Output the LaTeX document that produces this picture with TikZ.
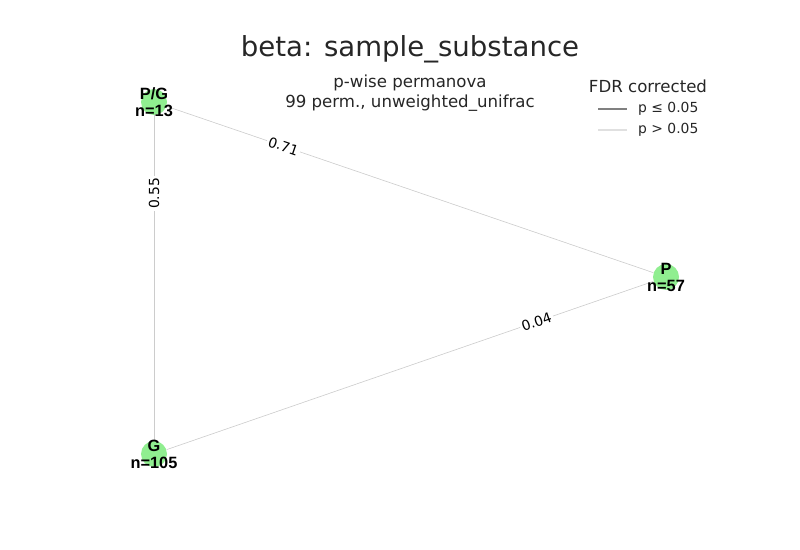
\documentclass[tikz,border=0pt]{standalone}
\usepackage{fontspec}
\setmainfont{DejaVu Sans}
\newfontfamily\labelfont{Liberation Sans}
\usetikzlibrary{positioning}

\definecolor{txtgray}{RGB}{38,38,38}
\definecolor{edgegray}{RGB}{204,204,204}
\definecolor{sigline}{RGB}{128,128,128}
\definecolor{nsline}{RGB}{224,224,224}
\definecolor{groupgreen}{RGB}{144,238,144}

\begin{document}
\begin{tikzpicture}[
    x=0.02cm, y=-0.02cm,
    group/.style={circle, fill=groupgreen, minimum size=26*0.02cm, inner sep=0pt},
    grouplabel/.style={align=center, font=\labelfont\fontsize{9.3}{9.7}\selectfont\bfseries, text=black},
    edge/.style={edgegray, line width=0.35pt},
    pval/.style={sloped, fill=white, inner sep=1pt, font=\fontsize{7.9}{9}\selectfont, text=black}
]
\useasboundingbox (0,0) rectangle (800,550);

% Title and subtitle
\node[txtgray, font=\fontsize{15.7}{18}\selectfont] (title) at (410,49) {beta: sample\_substance};
\node[txtgray, align=center, font=\fontsize{9.45}{11.4}\selectfont] (subtitle) at (410,93) {p-wise permanova\\99 perm., unweighted\_unifrac};

% Groups
\node[group] (PG) at (154,102) {};
\node[group] (P) at (666,277) {};
\node[group] (G) at (154,454) {};

% Pairwise edges
\draw[edge] (PG) -- node[pval, pos=0.24] {0.71} (P);
\draw[edge] (P) -- node[pval, pos=0.24] {0.04} (G);
\draw[edge] (G) -- node[pval, pos=0.76] {0.55} (PG);

% Group labels
\node[grouplabel] (PGlab) at (PG) {P/G\\n=13};
\node[grouplabel] (Plab) at (P) {P\\n=57};
\node[grouplabel] (Glab) at (G) {G\\n=105};

% Legend
\node[txtgray, font=\fontsize{9.45}{11}\selectfont] (legtitle) at (648,86) {FDR corrected};
\coordinate (sigA) at (598,109);
\coordinate (sigB) at (627,109);
\coordinate (nsA) at (598,130);
\coordinate (nsB) at (627,130);
\draw[sigline, line width=1.5pt] (sigA) -- (sigB);
\draw[nsline, line width=0.6pt] (nsA) -- (nsB);
\node[txtgray, anchor=west, font=\fontsize{7.9}{9}\selectfont] (sigtext) at (632,109) {p ≤ 0.05};
\node[txtgray, anchor=west, font=\fontsize{7.9}{9}\selectfont] (nstext) at (632,130) {p > 0.05};

\end{tikzpicture}
\end{document}
